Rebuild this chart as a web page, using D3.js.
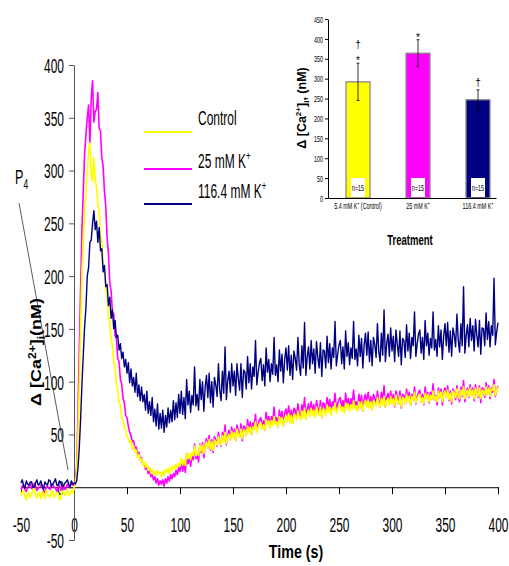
<!DOCTYPE html>
<html>
<head>
<meta charset="utf-8">
<script src="https://cdn.jsdelivr.net/npm/d3@7"></script>
<style>
body { margin: 0; background: #fff; }
svg { display: block; }
text { font-family: "Liberation Sans", Arial, sans-serif; }
</style>
</head>
<body>
<svg id="chart" width="509" height="566"></svg>
<script>
// sampling grid of the traces (s)
var timeStart = -50, timeStep = 1.25;

// delta [Ca2+]i (nM), one value per sample
var control = [
  -8,-4,-3,-9,-12,-6,-5,-10,-7,-2, -1,-8,-10,-5,-6,-11,-4,-7,-11,-3,
  -5,-9,-9,-4,-3,-10,-7,-5,-6,-12, -10,-4,-4,-8,-6,-2,-8,-7,-3,-5, -2,
  4,15,50,95,150,205,232,262,278,300, 318,326,296,290,312,292,284,268,262,238,
  232,211,204,186,180,161,156,140,134,118, 114,97,93,80,78,66,64,56,55,48,
  46,42,44,36,39,33,35,28,31,25, 27,21,24,19,22,16,19,14,17,12,
  15,11,16,13,14,10,15,12,17,14, 18,13,19,16,20,17,22,19,23,20,
  27,21,26,21,32,27,32,26,33,30, 39,30,34,30,40,34,40,32,39,43,
  37,45,36,43,35,45,43,40,48,43, 40,49,43,52,41,48,50,45,53,47,
  52,44,55,50,48,55,46,54,54,49, 58,52,57,50,57,55,62,52,57,60,
  61,55,59,54,64,59,63,56,63,59, 67,59,62,57,67,61,66,58,65,68,
  62,70,61,68,60,69,68,64,72,67, 64,72,66,75,64,70,73,67,75,68,
  73,66,76,71,68,76,66,74,73,68, 78,71,76,68,75,73,80,70,74,77,
  78,72,76,70,80,75,79,72,78,74, 82,74,77,72,81,75,81,72,79,82,
  76,83,75,81,73,82,80,77,85,79, 76,84,78,86,76,82,84,78,86,79,
  84,77,87,82,79,86,76,85,84,79, 88,81,86,78,86,83,90,80,84,87,
  88,81,85,79,89,84,88,81,87,83, 91,83,86,81,91,85,90,81,88,91,
  85,92,83,89,81,91,89,85,93,87, 84,92,87,95,84,90,92,86,94,87,
  92,84,94,89,86,94,84,92,91,87, 95,88,94,86,93,92,97,87,92,95
];
var k25 = [
  -2,1,3,-3,-4,0,1,3,-1,-2, 4,1,-3,-1,0,2,2,-4,-5,0,
  1,-1,-2,3,3,0,-1,-4,0,2, -3,1,2,-2,-1,3,1,0,4,2, 2,
  6,20,70,130,190,245,280,316,334,350, 362,326,368,385,346,356,358,374,340,338,
  312,304,280,266,236,222,194,186,166,164, 144,141,122,119,102,98,84,80,68,66,
  58,52,49,43,44,37,38,31,33,26, 28,21,23,17,19,13,16,10,12,7,
  10,4,8,2,6,3,7,1,8,4, 10,6,12,8,13,10,16,12,19,15,
  25,15,23,14,32,22,30,20,31,26, 41,27,32,24,41,33,42,28,41,46,
  37,49,35,45,33,48,45,39,52,43, 39,52,44,59,40,49,54,45,57,48,
  55,44,59,53,48,60,44,58,57,49, 64,53,62,50,61,56,69,53,60,64,
  66,56,63,54,71,61,67,57,67,61, 76,61,66,57,73,64,72,58,70,74,
  65,77,63,73,61,75,73,66,79,70, 65,78,70,85,65,74,79,70,81,71,
  78,67,82,75,71,82,66,80,79,71, 85,75,83,71,81,77,89,73,79,83,
  85,74,82,72,89,78,84,74,84,78, 92,77,81,73,88,79,87,72,84,88,
  79,90,76,86,74,88,85,78,91,81, 76,90,81,96,76,85,89,80,91,81,
  88,76,91,85,79,91,75,88,87,79, 93,82,90,78,88,83,95,79,86,90,
  92,81,88,78,95,84,90,80,90,84, 98,83,87,78,94,85,93,78,90,94,
  85,96,82,91,79,93,90,83,96,86, 81,95,86,101,81,90,94,85,97,87,
  94,82,97,90,85,96,80,94,93,85, 99,88,96,84,94,90,102,86,92,96
];
var k116 = [
  4,7,1,-1,6,3,2,5,5,0, 0,4,7,2,3,6,1,-2,5,3,
  2,7,6,1,3,5,8,2,2,6, 4,1,1,4,5,7,3,0,6,3, 4,
  3,6,18,38,65,98,125,152,170,200, 208,232,234,250,262,244,252,232,246,224,
  226,204,210,190,192,172,180,160,168,150, 158,142,144,130,136,122,128,114,121,108,
  118,99,112,96,104,90,108,86,97,82, 95,81,88,73,91,70,81,68,85,62,
  74,58,79,55,70,56,73,52,68,57, 75,61,73,62,82,64,80,66,88,70,
  91,69,85,65,102,78,91,71,87,78, 114,77,88,73,102,83,100,72,95,106,
  85,108,80,100,76,104,97,86,117,92, 82,110,89,133,83,101,110,90,117,96,
  110,87,117,103,92,117,85,111,109,93, 124,99,117,93,114,105,139,97,109,118,
  122,101,116,96,132,109,121,100,117,107, 142,106,116,100,130,110,126,99,121,132,
  111,134,106,125,102,129,122,111,142,116, 106,134,113,156,106,124,133,112,139,117,
  131,108,138,123,113,137,105,130,129,113, 143,118,136,112,132,123,157,115,126,135,
  139,117,133,112,148,124,137,116,132,122, 157,121,131,115,144,124,141,113,135,146,
  125,147,119,139,115,142,135,123,155,129, 119,146,125,168,119,136,145,124,151,129,
  143,119,149,135,124,148,116,141,139,123, 154,129,146,122,142,134,166,124,136,145,
  149,127,142,121,158,134,146,125,141,132, 166,130,140,124,153,133,149,121,143,155,
  134,156,128,148,124,151,144,133,164,139, 128,155,134,190,127,144,154,133,160,139,
  153,129,159,144,133,158,126,151,150,134, 165,140,157,133,153,144,198,135,147,156
];
var times = control.map(function(d, i) { return timeStart + i * timeStep; });

var xTicks = [-50, 0, 50, 100, 150, 200, 250, 300, 350, 400];
var yTicks = [-50, 0, 50, 100, 150, 200, 250, 300, 350, 400];

var legendNames = ["Control", "25 mM K", "116.4 mM K"];
var legendSup = ["", "+", "+"];
var colors = ["#ffff00", "#ff00ff", "#000080"];

// inset bar chart
var barNames = ["5.4 mM K", "25 mM K", "116.4 mM K"];
var barSuffix = [" (Control)", "", ""];
var barMeans = [292, 364, 247];
var barErrors = [47, 34, 25];
var barN = ["n=15", "n=15", "n=15"];
var barMarks = [["\u2020", "*"], ["*"], ["\u2020"]];
var insetTicks = [0, 50, 100, 150, 200, 250, 300, 350, 400, 450];

var svg = d3.select("#chart");

var x = d3.scaleLinear().domain([-50, 400]).range([21, 498]);
var y = d3.scaleLinear().domain([-50, 400]).range([540, 65]);

// axes
var sx = 0.57;
var xAxis = svg.append("g")
  .attr("transform", "translate(0," + y(0) + ")")
  .call(d3.axisBottom(x).tickValues(xTicks).tickSize(7).tickSizeOuter(0).tickFormat(String));
xAxis.select(".domain").attr("stroke", "#000");
xAxis.selectAll("text")
  .attr("font-family", "Liberation Sans, Arial, sans-serif")
  .attr("font-size", 21).attr("fill", "#000")
  .attr("dy", null).attr("y", 45)
  .attr("transform", "scale(" + sx + ",1)");

var yAxis = svg.append("g")
  .attr("transform", "translate(" + x(0) + ",0)")
  .call(d3.axisLeft(y).tickValues(yTicks).tickSize(5).tickSizeOuter(0).tickFormat(String));
yAxis.select(".domain").attr("stroke", "#555");
yAxis.selectAll(".tick line").attr("stroke", "#555");
yAxis.selectAll("text")
  .attr("font-family", "Liberation Sans, Arial, sans-serif")
  .attr("font-size", 21).attr("fill", "#000")
  .attr("x", -10 / sx).attr("dy", "0.35em")
  .attr("transform", "scale(" + sx + ",1)");

// traces
var line = d3.line()
  .x(function(d, i) { return x(times[i]); })
  .y(function(d) { return y(d); });

[[k25, colors[1], 1.6], [control, colors[0], 1.7], [k116, colors[2], 1.4]].forEach(function(s) {
  svg.append("path")
    .attr("d", line(s[0]))
    .attr("fill", "none")
    .attr("stroke", s[1])
    .attr("stroke-width", s[2])
    .attr("stroke-linejoin", "round");
});

// legend
var legendLineY = [132, 169, 204];
var legendTextY = [125, 168, 198];
legendNames.forEach(function(name, i) {
  svg.append("line")
    .attr("x1", 144).attr("x2", 192)
    .attr("y1", legendLineY[i]).attr("y2", legendLineY[i])
    .attr("stroke", colors[i]).attr("stroke-width", 2);
  var t = svg.append("text")
    .attr("transform", "translate(198," + legendTextY[i] + ") scale(0.6,1)")
    .attr("font-size", 20);
  t.append("tspan").text(name);
  if (legendSup[i]) t.append("tspan").attr("font-size", 13).attr("baseline-shift", "8").text(legendSup[i]);
});

// P4 label with pointer
var p4 = svg.append("text")
  .attr("transform", "translate(15,184) scale(0.6,1)")
  .attr("font-size", 21);
p4.append("tspan").text("P");
p4.append("tspan").attr("font-size", 14).attr("baseline-shift", "-5").text("4");
svg.append("line")
  .attr("x1", 19).attr("y1", 203).attr("x2", 68).attr("y2", 470)
  .attr("stroke", "#333").attr("stroke-width", 0.8);

// axis titles
svg.append("text")
  .attr("transform", "translate(296,558) scale(0.75,1)")
  .attr("text-anchor", "middle")
  .attr("font-size", 19).attr("font-weight", "bold")
  .text("Time (s)");

var yt = svg.append("text")
  .attr("transform", "translate(41,352) rotate(-90) scale(1,0.85)")
  .attr("text-anchor", "middle")
  .attr("font-size", 18).attr("font-weight", "bold");
yt.append("tspan").text("\u0394 [Ca");
yt.append("tspan").attr("font-size", 12).attr("baseline-shift", "7").text("2+");
yt.append("tspan").text("]");
yt.append("tspan").attr("font-size", 12).attr("baseline-shift", "-4").text("i");
yt.append("tspan").text("(nM)");

// inset
var inset = svg.append("g");
var xi = d3.scaleBand().domain(barNames).range([328, 496])
  .paddingInner(0.6).paddingOuter(0.2).align(0.75);
var yi = d3.scaleLinear().domain([0, 450]).range([198, 19]);
var serif = "Liberation Serif, Times New Roman, serif";

inset.selectAll("rect.bar").data(barNames).enter().append("rect")
  .attr("class", "bar")
  .attr("x", function(d) { return xi(d); })
  .attr("y", function(d, i) { return yi(barMeans[i]); })
  .attr("width", xi.bandwidth())
  .attr("height", function(d, i) { return yi(0) - yi(barMeans[i]); })
  .attr("fill", function(d, i) { return colors[i]; })
  .attr("stroke", "#8a8a8a").attr("stroke-width", 1.3);

barNames.forEach(function(name, i) {
  var cx = xi(name) + xi.bandwidth() / 2;
  var top = yi(barMeans[i] + barErrors[i]);
  var bot = yi(barMeans[i] - barErrors[i]);
  inset.append("line").attr("x1", cx).attr("x2", cx).attr("y1", top).attr("y2", bot)
    .attr("stroke", "#000").attr("stroke-width", 0.8);
  [top, bot].forEach(function(yy) {
    inset.append("line").attr("x1", cx - 1.5).attr("x2", cx + 1.5).attr("y1", yy).attr("y2", yy)
      .attr("stroke", "#000").attr("stroke-width", 0.8);
  });
  var marks = barMarks[i];
  marks.forEach(function(m, j) {
    inset.append("text")
      .attr("transform", "translate(" + cx + "," + (top - 4 - (marks.length - 1 - j) * 11 + (m === "*" ? 5 : 0)) + ")")
      .attr("text-anchor", "middle")
      .attr("font-family", serif).attr("font-size", 10)
      .text(m);
  });
  inset.append("rect")
    .attr("x", cx - 7).attr("y", 178).attr("width", 14).attr("height", 19)
    .attr("fill", "#fff");
  inset.append("text")
    .attr("transform", "translate(" + cx + ",191) scale(0.6,1)")
    .attr("text-anchor", "middle")
    .attr("font-family", serif).attr("font-size", 9)
    .text(barN[i]);
  var lab = inset.append("text")
    .attr("transform", "translate(" + cx + ",209) scale(0.6,1)")
    .attr("text-anchor", "middle")
    .attr("font-family", serif).attr("font-size", 9);
  lab.append("tspan").text(name);
  lab.append("tspan").attr("font-size", 6).attr("baseline-shift", "4").text("+");
  if (barSuffix[i]) lab.append("tspan").text(barSuffix[i]);
});

var iyAxis = inset.append("g")
  .attr("transform", "translate(328,0)")
  .call(d3.axisLeft(yi).tickValues(insetTicks).tickSize(3).tickSizeOuter(0).tickFormat(String));
iyAxis.selectAll("text")
  .attr("font-family", serif).attr("font-size", 9).attr("fill", "#000")
  .attr("x", -5 / 0.6).attr("dy", "0.35em")
  .attr("transform", "scale(0.6,1)");

inset.append("g")
  .attr("transform", "translate(0," + yi(0) + ")")
  .call(d3.axisBottom(xi).tickSize(0).tickFormat(""))
  .select(".domain").attr("stroke", "#000").attr("stroke-width", 1.2);

var it = inset.append("text")
  .attr("transform", "translate(306,108) rotate(-90)")
  .attr("text-anchor", "middle")
  .attr("font-size", 12.5).attr("font-weight", "bold");
it.append("tspan").text("\u0394 [Ca");
it.append("tspan").attr("font-size", 8).attr("baseline-shift", "5").text("2+");
it.append("tspan").text("]");
it.append("tspan").attr("font-size", 8).attr("baseline-shift", "-3").text("i");
it.append("tspan").text(", (nM)");

inset.append("text")
  .attr("transform", "translate(410,245) scale(0.68,1)")
  .attr("text-anchor", "middle")
  .attr("font-size", 14).attr("font-weight", "bold")
  .text("Treatment");
</script>
</body>
</html>
